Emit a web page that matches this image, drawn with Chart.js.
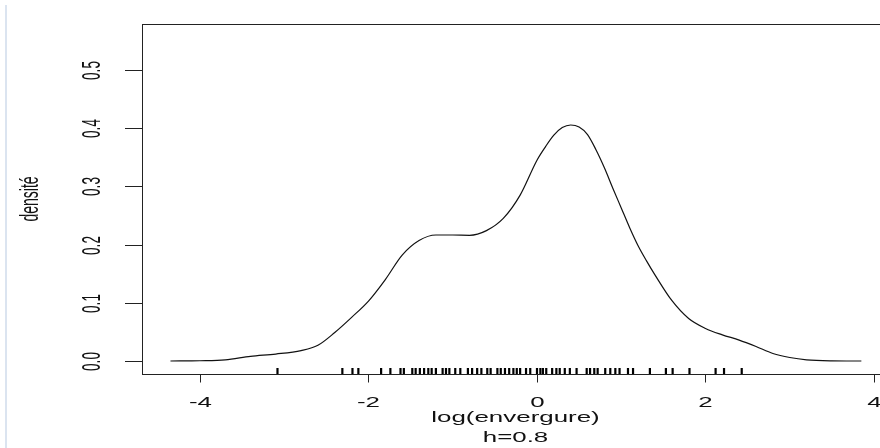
<!DOCTYPE html>
<html>
<head>
<meta charset="utf-8">
<script src="https://cdn.jsdelivr.net/npm/chart.js@4/dist/chart.umd.min.js"></script>
<style>
  html, body { margin: 0; padding: 0; background: #fff; }
  #wrap { position: relative; width: 880px; height: 448px; overflow: hidden; }
  #edge { position: absolute; left: 5px; top: 5px; width: 2px; height: 443px; background: #dbe4f0; }
  canvas { position: absolute; left: 0; top: 0; }
</style>
</head>
<body>
<div id="wrap">
  <canvas id="dens" width="892" height="448"></canvas>
  <div id="edge"></div>
</div>
<script>
// kernel density estimate of log(envergure), bandwidth 0.8
const densX = [-4.35, -4.0, -3.7, -3.4, -3.1, -2.8, -2.6, -2.4, -2.2, -2.0, -1.8, -1.6, -1.4, -1.2, -1.0,
    -0.8, -0.6, -0.4, -0.2, 0.0, 0.1, 0.2, 0.3, 0.4, 0.5, 0.6, 0.7, 0.8, 0.9, 1.0, 1.1, 1.2, 1.3, 1.4,
    1.6, 1.8, 2.0, 2.2, 2.4, 2.6, 2.8, 3.0, 3.2, 3.5, 3.85];
const densY = [0.000, 0.0005, 0.002, 0.008, 0.012, 0.018, 0.027, 0.049, 0.075, 0.103, 0.140, 0.182, 0.207, 0.2165, 0.2165,
    0.216, 0.224, 0.245, 0.285, 0.345, 0.368, 0.388, 0.401, 0.4055, 0.402, 0.389, 0.363, 0.332, 0.297, 0.263, 0.229, 0.198, 0.172, 0.148,
    0.104, 0.073, 0.056, 0.045, 0.036, 0.025, 0.013, 0.006, 0.002, 0.0003, 0.000];

// observations shown as a rug under the curve
const rugX = [-3.08, -2.31, -2.19, -2.12, -1.85, -1.74, -1.62, -1.58, -1.48, -1.44, -1.39, -1.34, -1.29,
    -1.25, -1.20, -1.12, -1.08, -1.04, -0.97, -0.91, -0.82, -0.77, -0.71, -0.66, -0.59, -0.55, -0.47,
    -0.43, -0.38, -0.33, -0.28, -0.24, -0.20, -0.13, -0.08, 0.00, 0.04, 0.07, 0.11, 0.18, 0.23, 0.27,
    0.33, 0.39, 0.47, 0.59, 0.63, 0.68, 0.72, 0.81, 0.87, 0.93, 0.98, 1.08, 1.14, 1.34, 1.53, 1.61,
    1.81, 2.12, 2.22, 2.43];

const xTicks = [-4, -2, 0, 2, 4];
const xTickLabels = ['-4', '-2', '0', '2', '4'];
const yTicks = [0, 0.1, 0.2, 0.3, 0.4, 0.5];
const yTickLabels = ['0.0', '0.1', '0.2', '0.3', '0.4', '0.5'];

const xTitle = 'log(envergure)';
const subTitle = 'h=0.8';
const yTitle = 'densité';

const FONT = '"Liberation Sans", Arial, sans-serif';
const STRETCH = 1.85;

function rText(ctx, str, x, y, size, vertical) {
    ctx.save();
    ctx.translate(x, y);
    ctx.scale(STRETCH, 1);
    if (vertical) ctx.rotate(-Math.PI / 2);
    ctx.font = size + 'px ' + FONT;
    ctx.fillStyle = '#111';
    ctx.textAlign = 'center';
    ctx.textBaseline = 'alphabetic';
    ctx.fillText(str, 0, 0);
    ctx.restore();
}

function seg(ctx, x1, y1, x2, y2) {
    ctx.beginPath();
    ctx.moveTo(x1, y1);
    ctx.lineTo(x2, y2);
    ctx.stroke();
}

// base-graphics style frame, axes and rug
const rAxes = {
    id: 'rAxes',
    afterDraw(chart) {
        const { ctx, chartArea: a } = chart;
        const xs = chart.scales.x, ys = chart.scales.y;
        ctx.save();
        ctx.strokeStyle = '#222';
        ctx.lineWidth = 1;
        ctx.strokeRect(a.left + 0.5, a.top + 0.5, a.right - a.left, a.bottom - a.top);

        xTicks.forEach((v, i) => {
            const px = Math.round(xs.getPixelForValue(v)) + 0.5;
            seg(ctx, px, a.bottom, px, a.bottom + 8.5);
            rText(ctx, xTickLabels[i], px, a.bottom + 33, 14, false);
        });

        yTicks.forEach((v, i) => {
            const py = Math.round(ys.getPixelForValue(v)) + 0.5;
            seg(ctx, a.left - 17, py, a.left, py);
            rText(ctx, yTickLabels[i], a.left - 42, py, 13.5, true);
        });

        ctx.strokeStyle = '#000';
        ctx.lineWidth = 2.2;
        rugX.forEach(v => {
            const px = xs.getPixelForValue(v);
            seg(ctx, px, a.bottom, px, a.bottom - 6);
        });

        const cx = (a.left + a.right) / 2;
        rText(ctx, xTitle, cx, a.bottom + 48, 14, false);
        rText(ctx, subTitle, cx, a.bottom + 68, 14, false);
        rText(ctx, yTitle, 38, (a.top + a.bottom) / 2, 14, true);
        ctx.restore();
    }
};

const ctx = document.getElementById('dens').getContext('2d');

const chart = new Chart(ctx, {
    type: 'line',
    data: {
        datasets: [{
            data: densX.map((x, i) => ({ x: x, y: densY[i] })),
            borderColor: '#111',
            borderWidth: 1.2,
            pointRadius: 0,
            fill: false,
            cubicInterpolationMode: 'monotone'
        }]
    },
    options: {
        responsive: false,
        animation: false,
        layout: { padding: { left: 142, top: 24, right: 3, bottom: 74 } },
        scales: {
            x: { type: 'linear', min: -4.688, max: 4.178, display: false },
            y: { type: 'linear', min: -0.0223, max: 0.579, display: false }
        },
        plugins: {
            legend: { display: false },
            tooltip: { enabled: false }
        }
    },
    plugins: [rAxes]
});
</script>
</body>
</html>
